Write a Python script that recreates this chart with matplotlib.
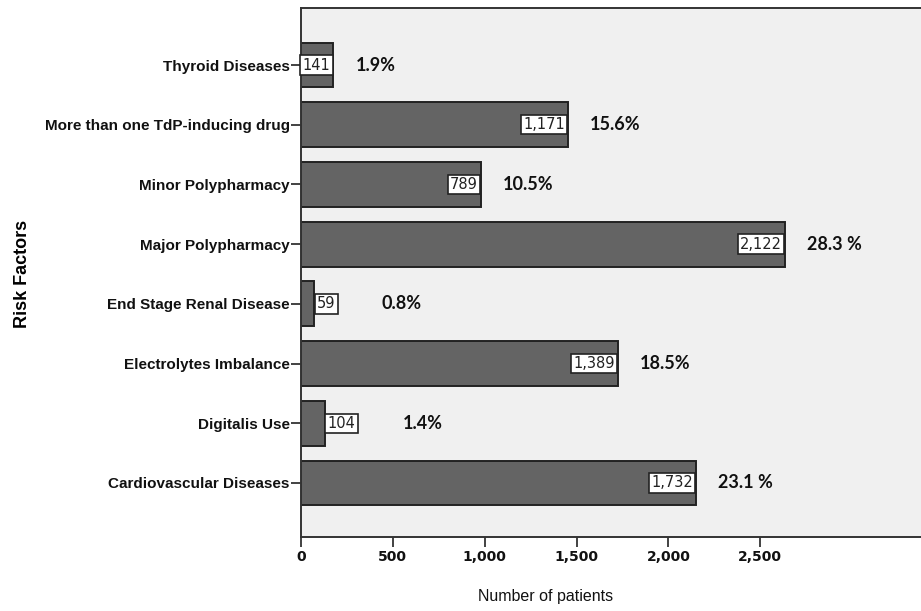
import matplotlib
matplotlib.use('Agg')
import matplotlib.pyplot as plt
from matplotlib.ticker import FuncFormatter

# Data (bottom to top)
categories = ['Cardiovascular Diseases', 'Digitalis Use', 'Electrolytes Imbalance',
              'End Stage Renal Disease', 'Major Polypharmacy', 'Minor Polypharmacy',
              'More than one TdP-inducing drug', 'Thyroid Diseases']
patients = [1732, 104, 1389, 59, 2122, 789, 1171, 141]
percent_labels = ['23.1 %', '1.4%', '18.5%', '0.8%', '28.3 %', '10.5%', '15.6%', '1.9%']
x_ticks = [0, 500, 1000, 1500, 2000, 2500]

# the printed axis and the drawn bars use different scales in the source figure
axis_scale = 1.241

fig = plt.figure(figsize=(9.21, 6.11), dpi=100, facecolor='white')
ax = fig.add_axes([0.3268, 0.1211, 0.6732, 0.8658])
ax.set_facecolor('#f0f0f0')

ypos = list(range(len(categories)))
ax.barh(ypos, patients, height=0.75, color='#646464', edgecolor='#222222', linewidth=1.4, zorder=2)

ax.set_ylim(-0.905, 7.955)
ax.set_xlim(0, 2720)
ax.set_yticks(ypos)
ax.set_yticklabels(categories, fontsize=11, fontweight='bold', family='Liberation Sans', color='#111111')
ax.tick_params(axis='y', length=7, width=1.2, color='#222222', pad=1)
ax.tick_params(axis='x', bottom=False, labelbottom=False)

for side in ['left', 'bottom', 'top']:
    ax.spines[side].set_color('#333333')
    ax.spines[side].set_linewidth(1.4)
ax.spines['right'].set_visible(False)

secax = ax.secondary_xaxis('bottom', functions=(lambda x: x * axis_scale, lambda x: x / axis_scale))
secax.set_xticks(x_ticks)
secax.xaxis.set_major_formatter(FuncFormatter(lambda v, p: f'{int(v):,}'))
secax.tick_params(length=7, width=1.2, color='#222222', labelsize=10, pad=2)
for lbl in secax.get_xticklabels():
    lbl.set_fontweight('bold')
    lbl.set_family('DejaVu Sans')
    lbl.set_color('#111111')
secax.spines['bottom'].set_visible(False)

# value boxes and percentage labels
for y, v, pct in zip(ypos, patients, percent_labels):
    txt = f'{v:,}'
    left_aligned = v < 120
    if left_aligned:
        ax.annotate(txt, xy=(v, y), xytext=(2, 0), textcoords='offset points',
                    ha='left', va='center', fontsize=10.5, family='DejaVu Sans', color='#222222', zorder=4,
                    bbox=dict(boxstyle='square,pad=0.15', fc='white', ec='#222222', lw=1.2))
        off = 17 + 7.8 * len(txt) + 16
    else:
        ax.annotate(txt, xy=(v, y), xytext=(-2, 0), textcoords='offset points',
                    ha='right', va='center', fontsize=10.5, family='DejaVu Sans', color='#222222', zorder=4,
                    bbox=dict(boxstyle='square,pad=0.15', fc='white', ec='#222222', lw=1.2))
        off = 16
    ax.annotate(pct, xy=(v, y), xytext=(off, 0), textcoords='offset points',
                ha='left', va='center', fontsize=13, fontweight='bold',
                family=['Lato', 'DejaVu Sans'], color='#111111')

fig.text(0.024, 0.552, 'Risk Factors', rotation=90, ha='center', va='center', fontsize=13,
         fontweight='bold', family=['Liberation Sans Narrow', 'Liberation Sans'])
fig.text(0.592, 0.023, 'Number of patients', ha='center', va='center', fontsize=11.5,
         family='Liberation Sans', color='#111111')

fig.savefig('out.png', dpi=100)
